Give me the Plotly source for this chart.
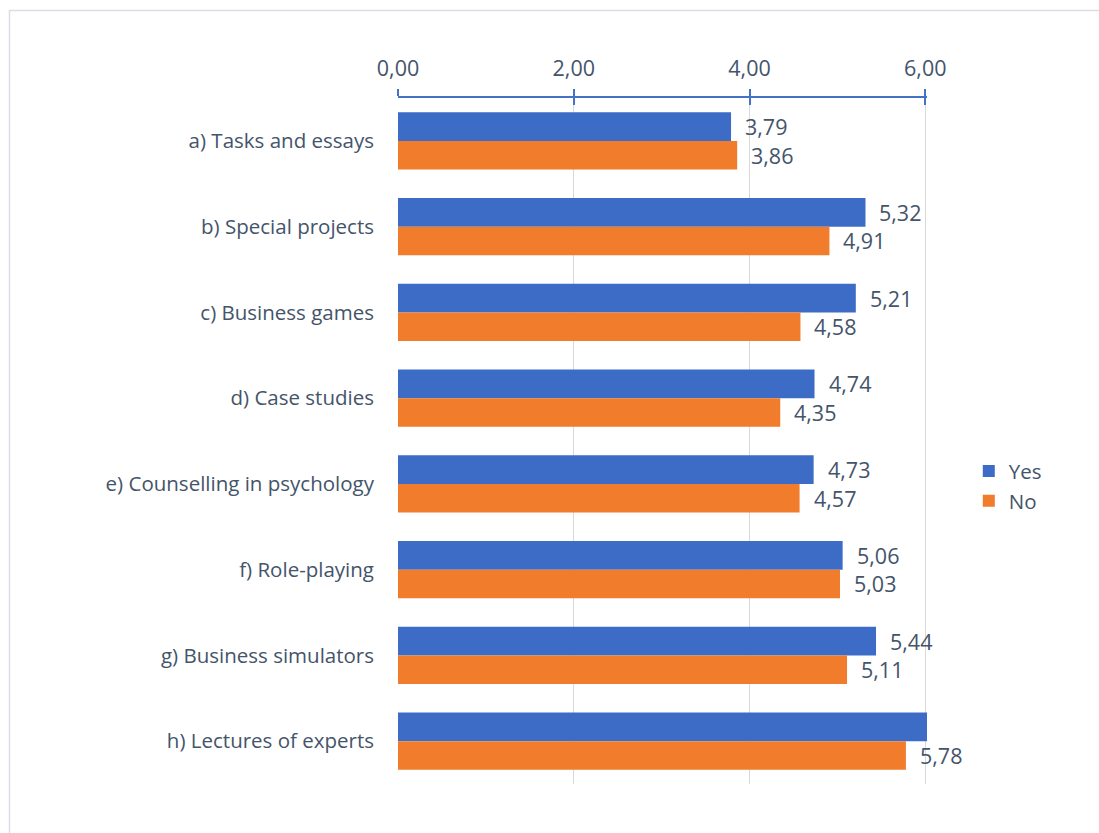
import plotly.graph_objects as go

categories = [
    "a) Tasks and essays",
    "b) Special projects",
    "c) Business games",
    "d) Case studies",
    "e) Counselling in psychology",
    "f) Role-playing",
    "g) Business simulators",
    "h) Lectures of experts",
]
yes_values = [3.79, 5.32, 5.21, 4.74, 4.73, 5.06, 5.44, 6.05]
no_values = [3.86, 4.91, 4.58, 4.35, 4.57, 5.03, 5.11, 5.78]
# the last "Yes" bar runs past the axis maximum, so its label is not drawn
yes_labels_shown = [True, True, True, True, True, True, True, False]
no_labels_shown = [True] * 8

tick_vals = [0, 2, 4, 6]
x_max = 6.02

TEXT = "#44546A"
FONT = "Open Sans"
TEXT_SIZE = 20.5
NUM_SIZE = 21.5
BLUE = "#3D6CC6"
ORANGE = "#F07C2C"
AXIS_BLUE = "#4472C4"
GRID = "#D9D9D9"

W, H = 1099, 833
L, R, T, B = 398, 172, 98, 49
bargap = 0.335


def fmt(v):
    return f"{v:.2f}".replace(".", ",")


fig = go.Figure()
fig.add_trace(go.Bar(y=categories, x=yes_values, name="Yes", orientation="h",
                     marker=dict(color=BLUE, line=dict(width=0))))
fig.add_trace(go.Bar(y=categories, x=no_values, name="No", orientation="h",
                     marker=dict(color=ORANGE, line=dict(width=0))))

# value labels beside each bar
band_px = (H - T - B) / len(categories)
half_bar_px = band_px * (1 - bargap) / 4
annotations = []
for cat, v, show in zip(categories, yes_values, yes_labels_shown):
    if show:
        annotations.append(dict(x=v, y=cat, xref="x", yref="y", text=fmt(v),
                                showarrow=False, xanchor="left", xshift=12,
                                yshift=half_bar_px,
                                font=dict(family=FONT, size=NUM_SIZE, color=TEXT)))
for cat, v, show in zip(categories, no_values, no_labels_shown):
    if show:
        annotations.append(dict(x=v, y=cat, xref="x", yref="y", text=fmt(v),
                                showarrow=False, xanchor="left", xshift=12,
                                yshift=-half_bar_px,
                                font=dict(family=FONT, size=NUM_SIZE, color=TEXT)))

fig.update_layout(
    width=W, height=H,
    margin=dict(l=L, r=R, t=T, b=B, pad=0),
    paper_bgcolor="white", plot_bgcolor="white",
    separators=",.",
    barmode="group", bargap=bargap, bargroupgap=0,
    font=dict(family=FONT, size=TEXT_SIZE, color=TEXT),
    showlegend=True,
    legend=dict(x=1.079, y=0.434, xanchor="left", yanchor="middle",
                font=dict(family=FONT, size=TEXT_SIZE, color=TEXT),
                traceorder="normal", itemwidth=30, tracegroupgap=0,
                bgcolor="rgba(0,0,0,0)"),
    xaxis=dict(side="top", range=[0, x_max], tickvals=tick_vals,
               tickformat=".2f", showgrid=True, gridcolor=GRID, gridwidth=1,
               zeroline=False, showline=True, linecolor=AXIS_BLUE, linewidth=1.5,
               ticks="outside", ticklen=7, tickwidth=1.5, tickcolor=AXIS_BLUE,
               ticklabelstandoff=5,
               tickfont=dict(family=FONT, size=NUM_SIZE, color=TEXT), fixedrange=True),
    xaxis2=dict(overlaying="x", side="top", range=[0, x_max], tickvals=tick_vals,
                showticklabels=False, showgrid=False, zeroline=False,
                ticks="inside", ticklen=7, tickwidth=1.5, tickcolor=AXIS_BLUE,
                showline=False),
    yaxis=dict(autorange="reversed", showgrid=False, zeroline=False,
               showline=False, ticks="", ticklabelstandoff=23,
               tickfont=dict(family=FONT, size=TEXT_SIZE, color=TEXT)),
    annotations=annotations,
)

# dummy trace to activate the secondary tick axis
fig.add_trace(go.Scatter(x=[None], y=[None], xaxis="x2", showlegend=False,
                         hoverinfo="skip"))

# chart frame
plot_w = W - L - R
plot_h = H - T - B
fig.add_shape(type="rect", xref="paper", yref="paper",
              x0=(9.5 - L) / plot_w, x1=(W + 20 - L) / plot_w,
              y0=-(B + 20) / plot_h, y1=(H - B - 10.5) / plot_h,
              line=dict(color="#D9DEE6", width=1.5), layer="below")

fig.write_html("out.html")
